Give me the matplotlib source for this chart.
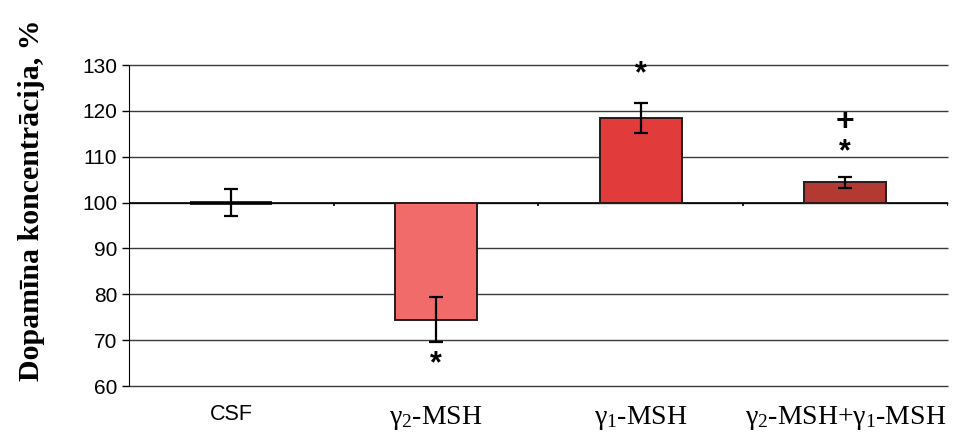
import matplotlib
matplotlib.use('Agg')
import matplotlib.pyplot as plt

# data
groups = ['CSF', 'γ$_2$-MSH', 'γ$_1$-MSH', 'γ$_2$-MSH+γ$_1$-MSH']
values = [100.0, 74.5, 118.5, 104.4]
errors = [3.0, 5.0, 3.3, 1.2]
colors = ['#e8e8e8', '#f26b6b', '#e23b3b', '#b23a32']
marks = ['', '*', '*', '*']
plus_marks = ['', '', '', '+']
mark_y = [None, 64.8, 128.0, 111.0]
plus_y = [None, None, None, 117.6]
baseline = 100
yticks = [60, 70, 80, 90, 100, 110, 120, 130]

plt.rcParams['mathtext.fontset'] = 'custom'
plt.rcParams['mathtext.rm'] = 'Liberation Serif'
plt.rcParams['mathtext.it'] = 'Liberation Serif'

fig = plt.figure(figsize=(9.66, 4.37), dpi=100)
ax = fig.add_axes([0.1335, 0.1167, 0.8475, 0.7343])

x = list(range(len(groups)))
heights = [v - baseline for v in values]

# grid lines first
ax.hlines(yticks, -0.5, 3.5, color='#3a3a3a', lw=1.0, zorder=0, clip_on=False)

# x axis crossing at 100 with boundary ticks
ax.axhline(baseline, color='black', lw=1.2, zorder=1)
ax.vlines([0.5, 1.5, 2.5, 3.5], baseline - 0.7, baseline, color='black', lw=1.2, zorder=1)

bars = ax.bar(x, heights, bottom=baseline, width=0.4, color=colors,
              edgecolor='#2a1a1a', linewidth=1.4, zorder=2)
bars[0].set_linewidth(2.6)
bars[0].set_edgecolor('black')
ax.errorbar(x, values, yerr=errors, fmt='none', ecolor='black',
            elinewidth=1.6, capsize=5, capthick=1.6, zorder=3)

for i in x:
    if marks[i]:
        ax.text(i, mark_y[i], marks[i], ha='center', va='center',
                fontsize=22, fontweight='bold', family='Liberation Sans')
    if plus_marks[i]:
        ax.text(i, plus_y[i], plus_marks[i], ha='center', va='center',
                fontsize=23, fontweight='bold', family='Liberation Sans')

ax.set_xlim(-0.5, 3.5)
ax.set_ylim(60, 130)
ax.set_yticks(yticks)
ax.tick_params(axis='y', labelsize=15, length=5, width=1, direction='out')
for lab in ax.get_yticklabels():
    lab.set_family('Liberation Sans')

ax.set_xticks(x)
ax.set_xticklabels(groups)
ax.tick_params(axis='x', length=0, pad=13)
for i, lab in enumerate(ax.get_xticklabels()):
    if i == 0:
        lab.set_family('Liberation Sans')
        lab.set_fontsize(15.5)
    else:
        lab.set_family('Liberation Serif')
        lab.set_fontsize(20)

for s in ['top', 'right', 'bottom']:
    ax.spines[s].set_visible(False)
ax.spines['left'].set_color('black')

ax.set_ylabel('Dopamīna koncentrācija, %', fontsize=21.5, fontweight='bold',
              family='Liberation Serif')
ax.yaxis.set_label_coords(-0.103, 0.58)

fig.savefig('out.png', dpi=100)
